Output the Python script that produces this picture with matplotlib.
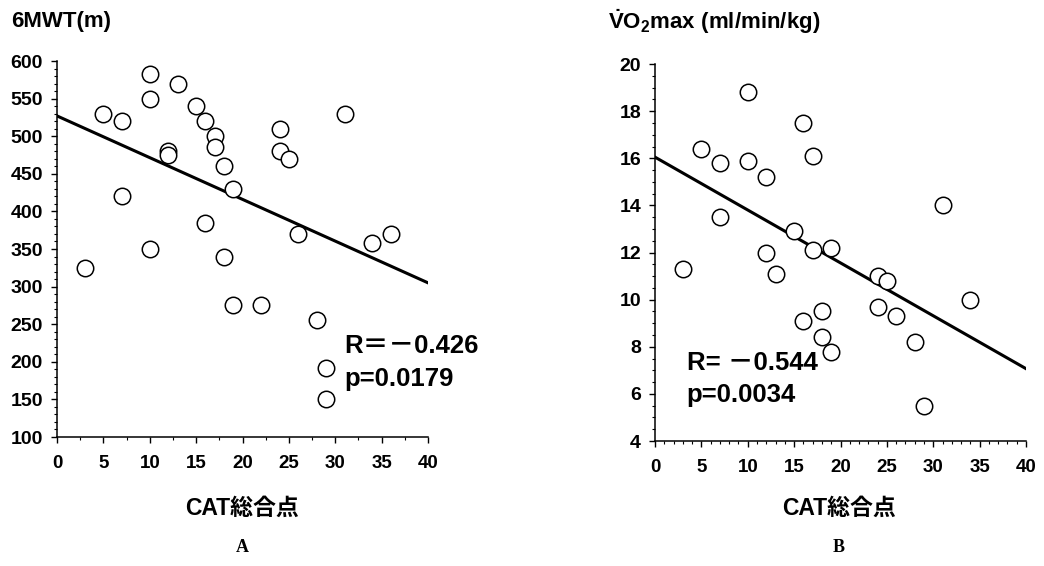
import numpy as np
import matplotlib.pyplot as plt
from matplotlib.ticker import MultipleLocator

plt.rcParams['font.family'] = ['Liberation Sans', 'Noto Sans CJK JP']
plt.rcParams['font.weight'] = 'bold'
plt.rcParams['mathtext.fontset'] = 'custom'
plt.rcParams['mathtext.rm'] = 'Liberation Sans:bold'
plt.rcParams['mathtext.bf'] = 'Liberation Sans:bold'
plt.rcParams['mathtext.it'] = 'Liberation Sans:bold'

# A: CAT score vs 6-minute walk distance
cat_a = [5, 7, 10, 10, 13, 15, 16, 17, 17, 12, 12, 18, 19, 7, 16,
         24, 24, 25, 31, 26, 34, 36, 3, 10, 18, 19, 22, 28, 29, 29]
mwt = [530, 520, 583, 550, 570, 540, 520, 500, 485, 480, 475, 460, 430, 420, 385,
       510, 480, 470, 530, 370, 358, 370, 325, 350, 340, 275, 275, 255, 192, 150]
fit_a = (527, -5.55)   # intercept, slope
r_a = 'R＝－0.426'
p_a = 'p=0.0179'

# B: CAT score vs VO2max
cat_b = [10, 16, 5, 7, 10, 17, 12, 31, 7, 15, 17, 19, 12, 3, 13,
         24, 25, 34, 18, 24, 26, 16, 18, 19, 28, 29]
vo2 = [18.8, 17.5, 16.4, 15.8, 15.9, 16.1, 15.2, 14.0, 13.5, 12.9, 12.1, 12.2, 12.0, 11.3, 11.1,
       11.0, 10.8, 10.0, 9.5, 9.7, 9.3, 9.1, 8.4, 7.8, 8.2, 5.5]
fit_b = (16.05, -0.2245)
r_b = 'R= －0.544'
p_b = 'p=0.0034'

fig = plt.figure(figsize=(10.44, 5.66), dpi=100)
ax1 = fig.add_axes([0.0546, 0.2279, 0.3554, 0.6643])
ax2 = fig.add_axes([0.6274, 0.2208, 0.3554, 0.6660])


def panel(ax, x, y, fit, ylim, ymajor, yminor, xminor):
    ax.scatter(x, y, s=140, facecolors='white', edgecolors='black',
               linewidths=1.1, zorder=3, clip_on=False)
    xs = np.array([0, 40])
    ax.plot(xs, fit[0] + fit[1] * xs, color='black', lw=2.2, zorder=2)
    ax.set_xlim(0, 40)
    ax.set_ylim(*ylim)
    ax.spines['top'].set_visible(False)
    ax.spines['right'].set_visible(False)
    for s in ('left', 'bottom'):
        ax.spines[s].set_linewidth(1.1)
    ax.xaxis.set_major_locator(MultipleLocator(5))
    ax.xaxis.set_minor_locator(MultipleLocator(xminor))
    ax.yaxis.set_major_locator(MultipleLocator(ymajor))
    ax.yaxis.set_minor_locator(MultipleLocator(yminor))
    ax.tick_params(which='major', length=4, width=1, pad=6)
    ax.tick_params(which='minor', length=2, width=0.8)
    ax.tick_params(axis='y', labelsize=14)
    ax.tick_params(axis='x', labelsize=13.5, pad=9)


panel(ax1, cat_a, mwt, fit_a, (100, 600), 50, 10, 2.5)
panel(ax2, cat_b, vo2, fit_b, (4, 20), 2, 0.5, 1)

ax1.text(31.0, 221, r_a, fontsize=18.5, va='center')
ax1.text(31.0, 177, p_a, fontsize=18.5, va='center')
ax2.text(3.4, 7.31, r_b, fontsize=18.5, va='center')
ax2.text(3.4, 5.95, p_b, fontsize=18.5, va='center')

fig.text(0.011, 0.962, '6MWT(m)', fontsize=16, va='center')
fig.text(0.582, 0.962, r'$\dot{\mathrm{V}}\mathrm{O}_2\mathrm{max\ (ml/min/kg)}$',
         fontsize=16, va='center')

fig.text(0.232, 0.102, 'CAT総合点', fontsize=16.5, ha='center', va='center')
fig.text(0.804, 0.102, 'CAT総合点', fontsize=16.5, ha='center', va='center')
fig.text(0.232, 0.032, 'A', fontsize=13, ha='center', va='center',
         family='Liberation Serif')
fig.text(0.803, 0.032, 'B', fontsize=13, ha='center', va='center',
         family='Liberation Serif')

fig.savefig('out.png', dpi=100)
